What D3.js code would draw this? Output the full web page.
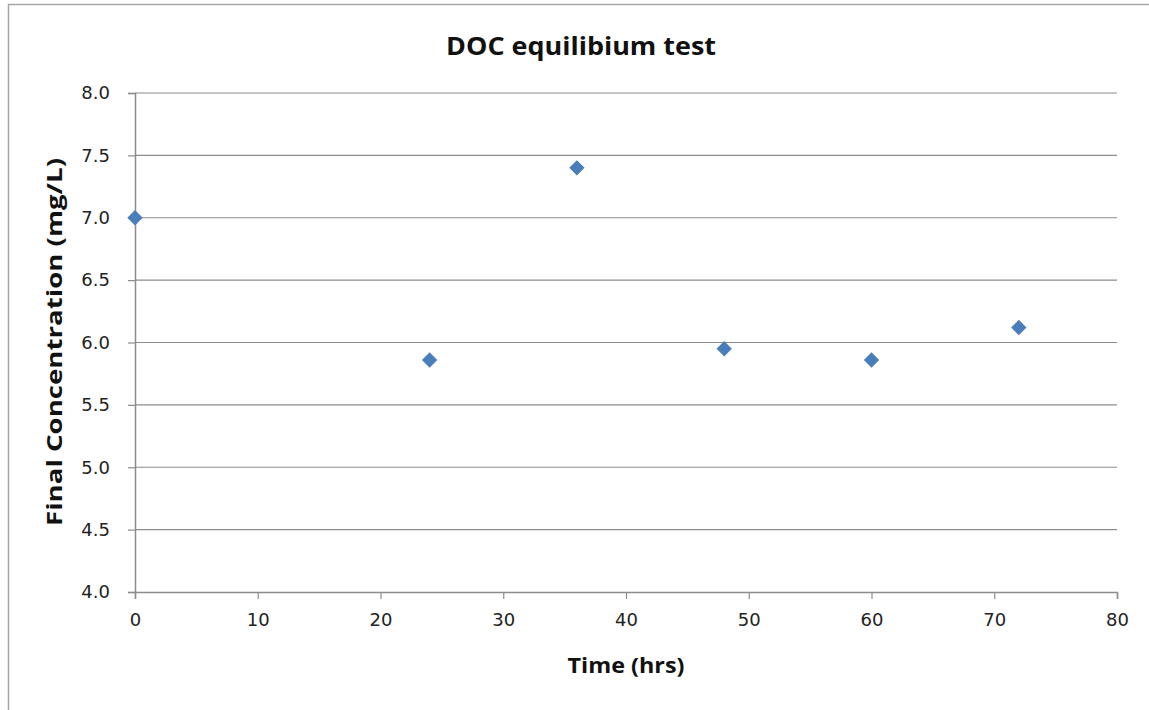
<!DOCTYPE html>
<html><head><meta charset="utf-8">
<script src="https://cdn.jsdelivr.net/npm/d3@7"></script>
<style>body{margin:0;background:#fff;}svg{display:block;}</style>
</head><body>
<svg id="c" width="1149" height="710"></svg>
<script>
const timeHrs = [0, 24, 36, 48, 60, 72];
const concentration = [7.0, 5.86, 7.4, 5.95, 5.86, 6.12];
const xTicks = [0, 10, 20, 30, 40, 50, 60, 70, 80];
const yTicks = [4.0, 4.5, 5.0, 5.5, 6.0, 6.5, 7.0, 7.5, 8.0];

const svg = d3.select("#c");
const L = 135, R = 1117, T = 93, B = 592;
const x = d3.scaleLinear().domain([0, 80]).range([L, R]);
const y = d3.scaleLinear().domain([4, 8]).range([B, T]);

svg.append("rect").attr("x", 8.5).attr("y", 4.5).attr("width", 1300).attr("height", 800)
  .attr("fill", "#fff").attr("stroke", "#a6a6a6").attr("stroke-width", 1.5);

// gridlines
svg.append("g").selectAll("line").data(yTicks.slice(1)).join("line")
  .attr("x1", L).attr("x2", R).attr("y1", d => y(d)).attr("y2", d => y(d))
  .attr("stroke", "#8c8c8c").attr("stroke-width", 1.2);

const gx = svg.append("g").attr("transform", `translate(0,${B})`)
  .call(d3.axisBottom(x).tickValues(xTicks).tickSize(7).tickPadding(14).tickFormat(d3.format("d")));
const gy = svg.append("g").attr("transform", `translate(${L},0)`)
  .call(d3.axisLeft(y).tickValues(yTicks).tickSize(7).tickPadding(18).tickFormat(d3.format(".1f")));
[gx, gy].forEach(g => {
  g.select(".domain").attr("stroke", "#8c8c8c").attr("stroke-width", 1.5);
  g.selectAll(".tick line").attr("stroke", "#8c8c8c").attr("stroke-width", 1.2);
  g.selectAll("text").attr("font-family", "DejaVu Sans").attr("font-size", 18).attr("fill", "#222");
});

// points
const pts = timeHrs.map((t, i) => [t, concentration[i]]);
svg.append("g").selectAll("path").data(pts).join("path")
  .attr("d", d3.symbol().type(d3.symbolDiamond2).size(150))
  .attr("transform", d => `translate(${x(d[0])},${y(d[1])})`)
  .attr("fill", "#4a7ebb");

svg.append("text").attr("x", 581).attr("y", 55).attr("text-anchor", "middle")
  .attr("font-family", "Open Sans").attr("font-weight", "bold").attr("font-size", 25)
  .attr("textLength", 270).attr("lengthAdjust", "spacingAndGlyphs")
  .attr("fill", "#111").text("DOC equilibium test");
svg.append("text").attr("x", 626).attr("y", 673).attr("text-anchor", "middle")
  .attr("font-family", "Open Sans").attr("font-weight", "bold").attr("font-size", 21)
  .attr("textLength", 117).attr("lengthAdjust", "spacingAndGlyphs")
  .attr("fill", "#111").text("Time (hrs)");
svg.append("text").attr("transform", "translate(62,342) rotate(-90)").attr("text-anchor", "middle")
  .attr("font-family", "Open Sans").attr("font-weight", "bold").attr("font-size", 21)
  .attr("textLength", 368).attr("lengthAdjust", "spacingAndGlyphs")
  .attr("fill", "#111").text("Final Concentration (mg/L)");
</script>
</body></html>
